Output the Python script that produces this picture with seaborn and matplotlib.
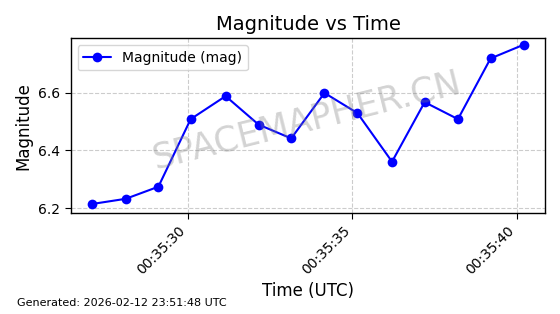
import matplotlib
matplotlib.use("Agg")
import matplotlib.pyplot as plt
import matplotlib.dates as mdates
import seaborn as sns
import pandas as pd

times = ["00:35:27.10", "00:35:28.12", "00:35:29.11", "00:35:30.09", "00:35:31.15",
         "00:35:32.15", "00:35:33.14", "00:35:34.15", "00:35:35.15", "00:35:36.20",
         "00:35:37.19", "00:35:38.20", "00:35:39.19", "00:35:40.20"]
magnitude = [6.214, 6.232, 6.274, 6.509, 6.589, 6.49, 6.442, 6.60, 6.53, 6.361,
             6.568, 6.509, 6.72, 6.768]

df = pd.DataFrame({
    "time": pd.to_datetime(["2026-02-12 " + t for t in times]),
    "mag": magnitude,
})

sns.set_style("white")
plt.rcParams['font.family'] = ['DejaVu Sans']
plt.rcParams['text.color'] = 'black'
plt.rcParams['axes.labelcolor'] = 'black'
plt.rcParams['xtick.color'] = 'black'
plt.rcParams['ytick.color'] = 'black'

fig = plt.figure(figsize=(5.6, 3.14), dpi=100)
ax = fig.add_axes([0.126, 0.322, 0.848, 0.556])
sns.lineplot(data=df, x="time", y="mag", ax=ax, color="blue", marker="o",
             markersize=7, markeredgewidth=0, linewidth=1.5, label="Magnitude (mag)")
ax.set_title("Magnitude vs Time", fontsize=14, color="black")
ax.set_xlabel("Time (UTC)", fontsize=12)
ax.set_ylabel("Magnitude", fontsize=12)
ax.xaxis.set_major_locator(mdates.SecondLocator(bysecond=[0, 5, 10, 15, 20, 25, 30, 35, 40, 45, 50, 55]))
ax.xaxis.set_major_formatter(mdates.DateFormatter("%H:%M:%S"))
for lbl in ax.get_xticklabels():
    lbl.set_rotation(45)
    lbl.set_ha("right")
ax.set_yticks([6.2, 6.4, 6.6])
ax.set_ylim(6.183, 6.79)
ax.grid(True, linestyle="--", color="#cccccc", linewidth=0.8)
ax.tick_params(axis="both", labelsize=10, length=4, width=0.8, direction="out",
               bottom=True, left=True, colors="black")
for s in ax.spines.values():
    s.set_color("black")
    s.set_linewidth(1.0)
ax.legend(loc="upper left", fontsize=10, frameon=True)
fig.text(0.549, 0.615, "SPACEMAPHER.CN", fontsize=25, color="gray", alpha=0.35,
         rotation=14, ha="center", va="center")
fig.text(0.03, 0.025, "Generated: 2026-02-12 23:51:48 UTC", fontsize=8)
fig.savefig("out.png", dpi=100)
